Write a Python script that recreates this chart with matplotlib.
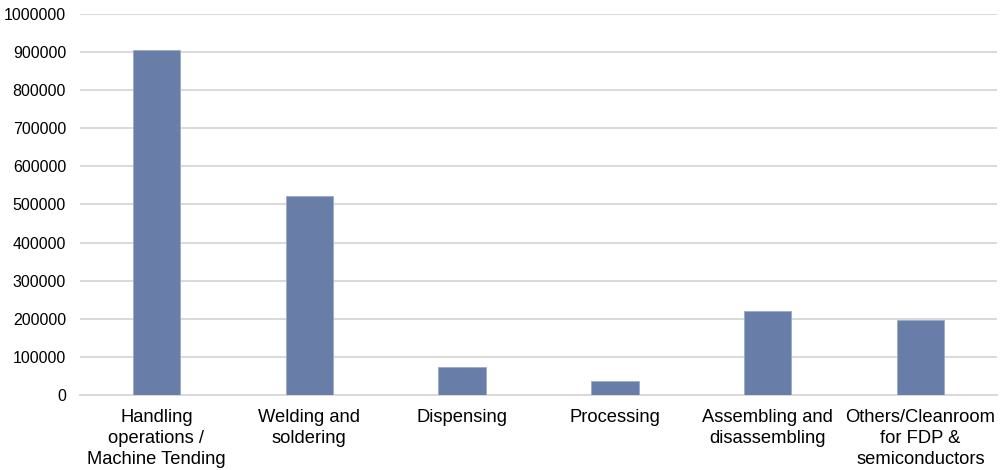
import matplotlib
matplotlib.use("Agg")
import matplotlib.pyplot as plt

plt.rcParams['font.family'] = ['Liberation Sans', 'DejaVu Sans']

categories = [
    "Handling\noperations /\nMachine Tending",
    "Welding and\nsoldering",
    "Dispensing",
    "Processing",
    "Assembling and\ndisassembling",
    "Others/Cleanroom\nfor FDP &\nsemiconductors",
]
values = [906000, 521000, 73500, 36500, 220000, 198000]
yticks = list(range(0, 1000001, 100000))

bar_color = "#687EA8"
grid_color = "#D9D9D9"

fig = plt.figure(figsize=(10, 4.7), dpi=100)
ax = fig.add_axes([0.08, 0.1596, 0.917, 0.8106])

x = list(range(len(categories)))
ax.bar(x, values, width=0.31, color=bar_color, edgecolor="#9AAAC8", linewidth=0.6, zorder=3)

ax.set_xlim(-0.5, len(categories) - 0.5)
ax.set_ylim(0, 1000000)
ax.set_yticks(yticks)
ax.set_yticklabels([str(v) for v in yticks], fontsize=11.5, color="#000000")
ax.set_xticks(x)
ax.set_xticklabels(categories, fontsize=13.2, color="#000000", linespacing=1.3)

ax.grid(axis="y", color=grid_color, linewidth=1.4, zorder=0)
for side in ["top", "right", "left"]:
    ax.spines[side].set_visible(False)
ax.spines["bottom"].set_color(grid_color)
ax.spines["bottom"].set_linewidth(1.4)
ax.tick_params(axis="both", length=0)
ax.tick_params(axis="y", pad=10)
ax.tick_params(axis="x", pad=10)

fig.savefig("out.png", dpi=100, facecolor="white")
